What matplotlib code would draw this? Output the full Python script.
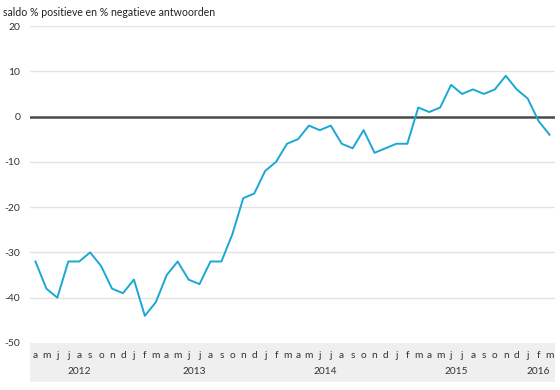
import matplotlib
matplotlib.use("Agg")
import matplotlib.pyplot as plt
from matplotlib.patches import Rectangle
from matplotlib.transforms import blended_transform_factory

# monthly saldo, april 2012 - march 2016
months = ["a", "m", "j", "j", "a", "s", "o", "n", "d",
          "j", "f", "m", "a", "m", "j", "j", "a", "s", "o", "n", "d",
          "j", "f", "m", "a", "m", "j", "j", "a", "s", "o", "n", "d",
          "j", "f", "m", "a", "m", "j", "j", "a", "s", "o", "n", "d",
          "j", "f", "m"]
saldo = [-32, -38, -40, -32, -32, -30, -33, -38, -39,
         -36, -44, -41, -35, -32, -36, -37, -32, -32, -26, -18, -17,
         -12, -10, -6, -5, -2, -3, -2, -6, -7, -3, -8, -7,
         -6, -6, 2, 1, 2, 7, 5, 6, 5, 6, 9, 6,
         4, -1, -4]
years = ["2012", "2013", "2014", "2015", "2016"]
year_pos = [4, 14.5, 26.5, 38.5, 46]
yticks = [20, 10, 0, -10, -20, -30, -40, -50]

plt.rcParams["font.family"] = ["Lato", "DejaVu Sans"]

W, H = 560, 390
fig = plt.figure(figsize=(W / 100, H / 100), dpi=100)
ax = fig.add_axes([30 / W, 1 - 343 / H, 525 / W, 317 / H])

x = list(range(len(saldo)))
for v in yticks:
    if v not in (0, -50):
        ax.axhline(v, color="#e3e3e3", lw=1.0, zorder=1)
ax.axhline(0, color="#4a4a4a", lw=1.8, zorder=2)
ax.plot(x, saldo, color="#1ba7d5", lw=1.4, zorder=3)

ax.set_xlim(-0.5, len(saldo) - 0.5)
ax.set_ylim(-50, 20)
ax.set_yticks(yticks)
ax.set_yticklabels([str(v) for v in yticks], fontsize=7.5, color="#333333")
ax.tick_params(axis="y", length=0, pad=7)
ax.set_xticks(x)
ax.set_xticklabels(months, fontsize=7.3, color="#333333")
ax.tick_params(axis="x", length=0, pad=6)
for s in ax.spines.values():
    s.set_visible(False)

# grey band behind month/year labels
band_h = 39 / 317
ax.add_patch(Rectangle((0, -band_h), 1, band_h, transform=ax.transAxes,
                       facecolor="#efefef", edgecolor="none",
                       clip_on=False, zorder=0))
trans = blended_transform_factory(ax.transData, ax.transAxes)
for yr, p in zip(years, year_pos):
    ax.text(p, -29 / 317, yr, transform=trans, ha="center", va="center",
            fontsize=7.3, color="#333333")

fig.text(3 / W, 1 - 12 / H, "saldo % positieve en % negatieve antwoorden",
         ha="left", va="center", fontsize=7.6, color="#222222")

fig.savefig("out.png", dpi=100)
